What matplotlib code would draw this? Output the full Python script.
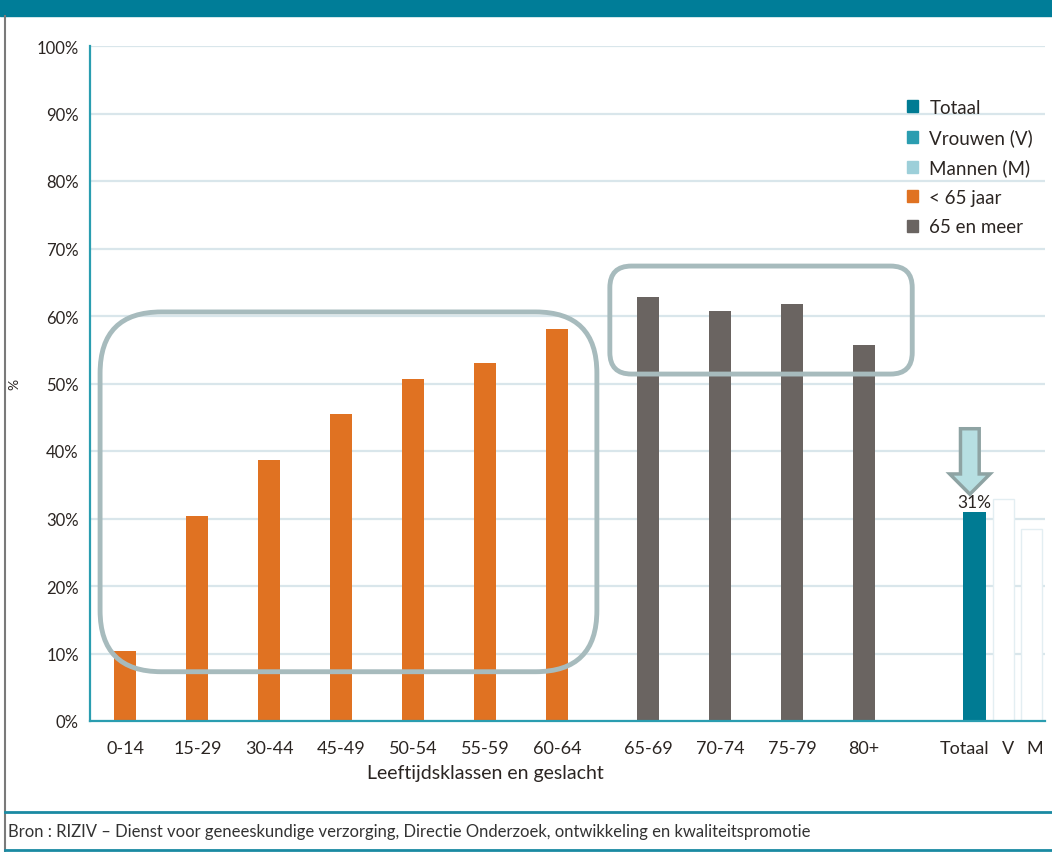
import numpy as np
import matplotlib
matplotlib.use('Agg')
import matplotlib.pyplot as plt
import matplotlib.transforms as mtrans
from matplotlib.patches import FancyBboxPatch, FancyArrow, Patch, Rectangle
from matplotlib.lines import Line2D

plt.rcParams['font.family'] = ['Lato', 'DejaVu Sans']

##### Data #####
age_classes = ['0-14', '15-29', '30-44', '45-49', '50-54', '55-59', '60-64']
age_values = [10.4, 30.4, 38.7, 45.5, 50.7, 53.0, 58.1]
old_classes = ['65-69', '70-74', '75-79', '80+']
old_values = [62.8, 60.7, 61.8, 55.7]
sex_classes = ['Totaal', 'V', 'M']
sex_values = [31.0, 32.9, 28.4]

legend_labels = ['Totaal', 'Vrouwen (V)', 'Mannen (M)', '< 65 jaar', '65 en meer']
yticks = np.arange(0, 101, 10)

##### Colours #####
c_total = '#007b93'
c_women = '#2b9db0'
c_men = '#9dcfd9'
c_young = '#e07222'
c_old = '#6a6461'
c_text = '#2b2522'
c_grid = '#d9e6eb'
c_box = '#a7bbbd'

# bar slots: one unit per age class, extra gaps between groups
x_young = np.arange(len(age_classes)) + 0.49
x_old = np.arange(len(old_classes)) + len(age_classes) + 0.75
x_sex = len(age_classes) + len(old_classes) + 1.28 + np.array([0.0, 0.41, 0.80])

fig = plt.figure(figsize=(10.52, 8.53), dpi=100)
ax = fig.add_axes([90/1052, 1 - 722/853, 955/1052, 675/853])

ax.set_axisbelow(True)
ax.yaxis.grid(True, color=c_grid, linewidth=1.6)
ax.bar(x_young, age_values, width=0.31, color=c_young, zorder=2)
ax.bar(x_old, old_values, width=0.31, color=c_old, zorder=2)
ax.bar(x_sex[0], sex_values[0], width=0.32, color=c_total, zorder=2)
ax.bar(x_sex[1:], sex_values[1:], width=0.29, facecolor='white',
       edgecolor='#e3eef2', linewidth=1.0, zorder=2)

ax.text(x_sex[0], sex_values[0] + 0.3, '%d%%' % round(sex_values[0]),
        ha='center', va='bottom', fontsize=12.5, color=c_text, zorder=4)

# arrow pointing down at the total bar
ax.add_patch(FancyArrow(x_sex[0] - 0.06, 43.3, 0, -9.7, width=0.26,
                        head_width=0.56, head_length=3.0,
                        length_includes_head=True, facecolor='#b7dfe2',
                        edgecolor='#8ea3a3', linewidth=2.5, zorder=5))

# rounded frames round the two age groups
asp = 72 / 6.75
ax.add_patch(FancyBboxPatch((0.14, 7.3), 6.9, 53.3,
                            boxstyle='round,pad=0,rounding_size=0.85',
                            mutation_aspect=asp, fill=False,
                            edgecolor=c_box, linewidth=3.5, zorder=3))
ax.add_patch(FancyBboxPatch((7.22, 51.4), 4.2, 16.0,
                            boxstyle='round,pad=0,rounding_size=0.3',
                            mutation_aspect=asp, fill=False,
                            edgecolor=c_box, linewidth=3.5, zorder=3))

ax.set_xlim(0, 955 / 72)
ax.set_ylim(0, 100)
ax.set_yticks(yticks)
ax.set_yticklabels(['%d%%' % v for v in yticks], fontsize=12, color=c_text)
ax.set_xticks(np.concatenate([x_young, x_old, x_sex]))
ax.set_xticklabels(age_classes + old_classes + sex_classes, fontsize=13,
                   color=c_text)
ax.tick_params(axis='both', length=0, pad=8)
ax.tick_params(axis='x', pad=14)

# nudge the crowded Totaal / V / M labels apart
xlabels = ax.get_xticklabels()
for lab, dx in zip(xlabels[-3:], [-10, 4, 3]):
    lab.set_transform(lab.get_transform() +
                      mtrans.ScaledTranslation(dx / 100, 0, fig.dpi_scale_trans))

for side in ['top', 'right']:
    ax.spines[side].set_visible(False)
for side in ['left', 'bottom']:
    ax.spines[side].set_color('#2a9db0')
    ax.spines[side].set_linewidth(1.6)

ax.set_xlabel('Leeftijdsklassen en geslacht', fontsize=14, color=c_text)
ax.xaxis.set_label_coords(395 / 955, -43 / 675)
ax.set_ylabel('%', fontsize=10, color=c_text)
ax.yaxis.set_label_coords(-70 / 955, 0.5)

handles = [Patch(color=c) for c in [c_total, c_women, c_men, c_young, c_old]]
ax.legend(handles, legend_labels, loc='upper left',
          bbox_to_anchor=(800 / 955, 1 - 36 / 675), frameon=False,
          fontsize=13.5, handlelength=0.6, handleheight=0.6, handletextpad=0.6,
          labelspacing=0.66, labelcolor=c_text)

# page furniture: header band, side border, source footer
fig.patches.append(Rectangle((0, 1 - 17/853), 1, 17/853,
                             transform=fig.transFigure, color='#007d98'))
fig.add_artist(Line2D([5/1052, 5/1052], [0, 1 - 17/853],
                      transform=fig.transFigure, color='#7a7a7a', lw=1.5))
for yy in [813, 851]:
    fig.add_artist(Line2D([5/1052, 1], [1 - yy/853, 1 - yy/853],
                          transform=fig.transFigure, color='#1a8aa2', lw=2))
fig.text(8/1052, 1 - 832/853,
         'Bron : RIZIV \u2013 Dienst voor geneeskundige verzorging, '
         'Directie Onderzoek, ontwikkeling en kwaliteitspromotie',
         fontsize=12, color='#333333', va='center',
         family=['Liberation Sans Narrow', 'Lato', 'DejaVu Sans'])

fig.savefig('out.png', dpi=100)
